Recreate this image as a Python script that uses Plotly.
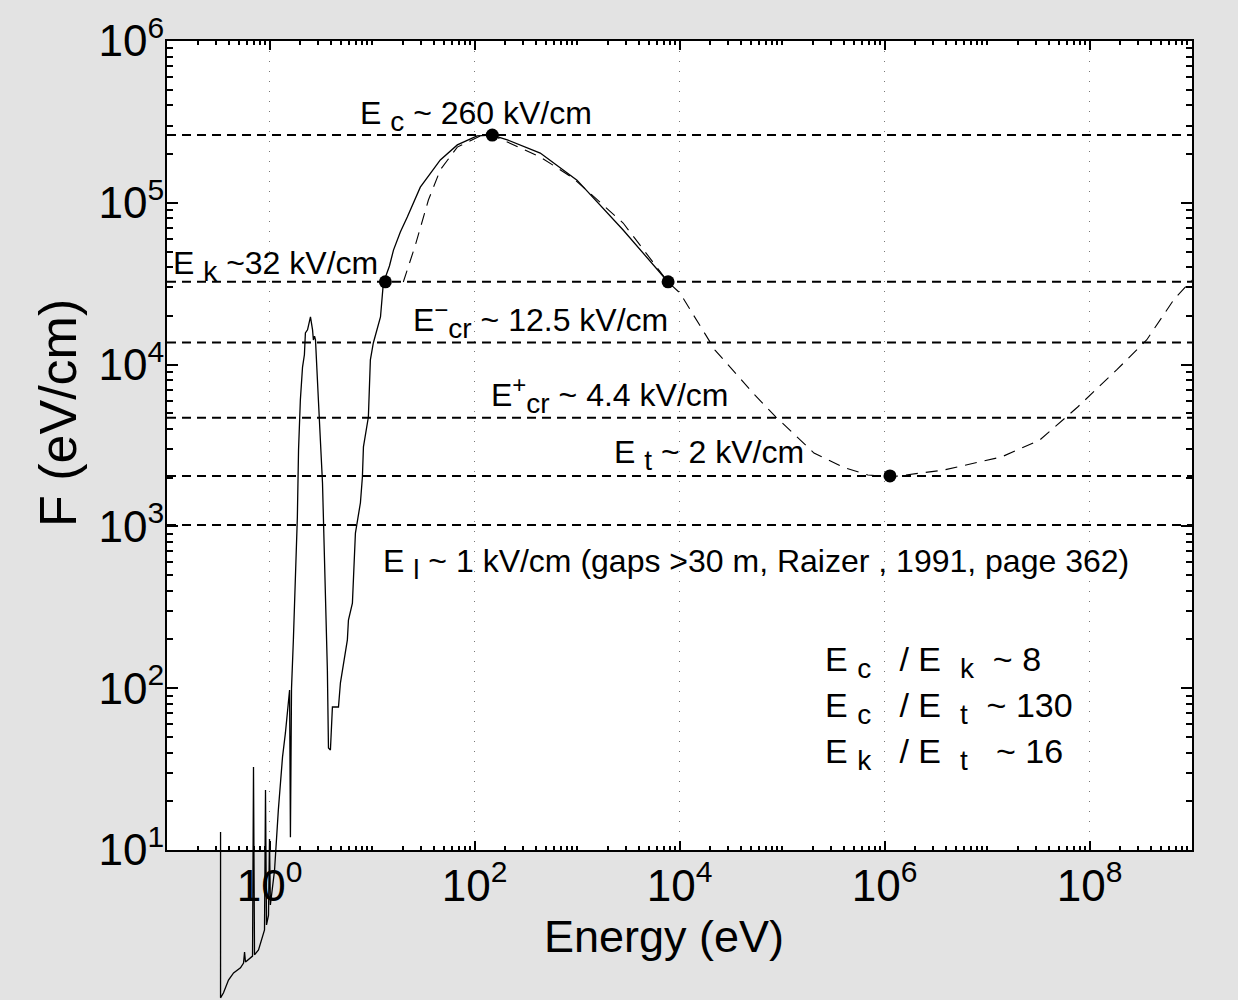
import math
import plotly.graph_objects as go

# ---------------- data ----------------
# measured friction / stopping force (solid curve)
energy_solid = [0.333, 0.333, 0.356, 0.398, 0.446, 0.521, 0.558, 0.571, 0.583, 0.683,
                0.698, 0.714, 0.781, 0.855, 0.894, 0.914, 0.935, 0.978, 1.0, 1.02,
                1.12, 1.22, 1.34, 1.43, 1.57, 1.60, 1.64, 1.71, 1.79, 1.87,
                1.92, 2.00, 2.10, 2.19, 2.24, 2.35, 2.51, 2.63, 2.68, 2.75,
                2.81, 2.94, 3.00, 3.29, 3.51, 3.67, 3.76, 3.93, 4.11, 4.71,
                4.92, 5.75, 5.89, 6.44, 6.89, 7.71, 8.06, 8.25, 9.22, 9.64,
                10.3, 12.1, 12.9, 13.8, 14.8, 16.2, 18.9, 22.1, 29.6, 46.4,
                68.0, 106, 149, 209, 438, 1000, 2820, 7740]
F_solid = [12.9, 1.22, 1.31, 1.57, 1.74, 1.87, 2.0, 2.34, 2.03, 2.21,
           32.6, 2.25, 2.41, 2.99, 3.21, 23.5, 3.44, 3.96, 11.7, 4.57,
           7.5, 17.7, 37.6, 52.9, 97.5, 12.0, 100, 199, 447, 1140,
           2970, 6040, 9660, 11500, 15700, 16400, 19700, 16400, 14200, 15000,
           14200, 6670, 6040, 1850, 447, 129, 42.7, 41.5, 76.5, 76.5,
           108, 199, 264, 336, 910, 1400, 2020, 3100, 4740, 10700,
           13600, 19700, 31900, 35800, 40700, 51000, 66000, 81700, 125000, 184000,
           228000, 259000, 262000, 245000, 203000, 138000, 67900, 32400]

# Bethe-type curve (thin dashed)
energy_bethe = [20.2, 26.5, 35.5, 46.4, 68.0, 114, 149, 438, 918, 2820,
                7740, 10100, 22200, 52100, 87400, 205000, 411000, 689000, 1130000, 3.79e6,
                1.39e7, 3.27e7, 7.67e7, 1.84e8, 3.61e8, 6.62e8, 9.9e8]
F_bethe = [32400, 54800, 104000, 160000, 221000, 259000, 262000, 192000, 142000, 75000,
           32400, 27700, 12300, 6670, 4740, 2840, 2300, 2080, 2020, 2230,
           2690, 3420, 5470, 9270, 14200, 25100, 33300]

# threshold field levels (eV/cm)
field_names = ["E_c", "E_k", "E_cr-", "E_cr+", "E_t", "E_l"]
field_values = [2.62e5, 3.25e4, 1.37e4, 4.7e3, 2.05e3, 1.02e3]

# highlighted points
marker_energy = [13.5, 149, 7740, 1.13e6]
marker_F = [3.25e4, 2.62e5, 3.25e4, 2.05e3]

# axes
E_RANGE = [0.1, 1e9]
F_RANGE = [10, 1e6]
x_tick_vals = [1, 1e2, 1e4, 1e6, 1e8]
x_tick_exp = ["0", "2", "4", "6", "8"]
y_tick_vals = [1e1, 1e2, 1e3, 1e4, 1e5, 1e6]
y_tick_exp = ["1", "2", "3", "4", "5", "6"]
x_title = "Energy (eV)"
y_title = "F (eV/cm)"

# ---------------- layout geometry ----------------
W, H = 1238, 1000
PL, PR, PT, PB = 167, 1192, 41, 850      # plot frame in pixels
ML, MR, MT, MB = PL, W - PR, PT, 0
region_h = H - MT - MB
ydom0 = (H - PB) / region_h

xr = [math.log10(E_RANGE[0]), math.log10(E_RANGE[1])]
yr = [math.log10(F_RANGE[0]), math.log10(F_RANGE[1])]
px_per_dec = (PB - PT) / (yr[1] - yr[0])
y2_low = yr[0] - (H - PB) / px_per_dec

FONT = "Liberation Sans, Arial, Helvetica, sans-serif"


def px(x):
    return (x - ML) / (W - ML - MR)


def py(y):
    return (H - MB - y) / region_h


def sub(s, size):
    return "<sub><span style='font-size:%dpx'>%s</span></sub>" % (size, s)


def sup(s, size):
    return "<sup><span style='font-size:%dpx'>%s</span></sup>" % (size, s)


x_tick_text = ["10" + sup(e, 30) for e in x_tick_exp]
y_tick_text = ["10" + sup(e, 30) for e in y_tick_exp]

fig = go.Figure()

# dashed horizontal threshold lines
for v in field_values:
    fig.add_trace(go.Scatter(x=E_RANGE, y=[v, v], mode="lines",
                             line=dict(color="black", width=2, dash="9px,6px"),
                             xaxis="x", yaxis="y", showlegend=False, hoverinfo="skip"))

# Bethe curve
fig.add_trace(go.Scatter(x=energy_bethe, y=F_bethe, mode="lines",
                         line=dict(color="black", width=1.1, dash="12px,8px"),
                         xaxis="x", yaxis="y", showlegend=False))

# markers
fig.add_trace(go.Scatter(x=marker_energy, y=marker_F, mode="markers",
                         marker=dict(color="black", size=13),
                         xaxis="x", yaxis="y", showlegend=False))

# solid measured curve, on an extended invisible subplot so it can run below the frame
fig.add_trace(go.Scatter(x=energy_solid, y=F_solid, mode="lines",
                         line=dict(color="black", width=1.3),
                         xaxis="x2", yaxis="y2", showlegend=False))

axis_common = dict(showline=True, linecolor="black", linewidth=2, mirror="ticks",
                   ticks="inside", tickcolor="black", tickwidth=1.5,
                   tickfont=dict(family=FONT, size=44, color="black"),
                   zeroline=False, automargin=False)

fig.update_layout(
    width=W, height=H,
    margin=dict(l=ML, r=MR, t=MT, b=MB, pad=0, autoexpand=False),
    paper_bgcolor="#e3e3e3",
    plot_bgcolor="rgba(0,0,0,0)",
    font=dict(family=FONT, color="black"),
    showlegend=False,
    xaxis=dict(type="log", range=xr, domain=[0, 1], anchor="y",
               tickvals=x_tick_vals, ticktext=x_tick_text, ticklen=9, ticklabelstandoff=-4,
               showgrid=True, gridcolor="#777777", gridwidth=1, griddash="1px,9px",
               minor=dict(ticks="inside", ticklen=4, tickcolor="black", dtick="D1", showgrid=False),
               **axis_common),
    yaxis=dict(type="log", range=yr, domain=[ydom0, 1], anchor="x",
               tickvals=y_tick_vals, ticktext=y_tick_text, ticklen=11, ticklabelstandoff=-8,
               showgrid=False,
               minor=dict(ticks="inside", ticklen=6, tickcolor="black", dtick="D1", showgrid=False),
               **axis_common),
    xaxis2=dict(type="log", range=xr, domain=[0, 1], anchor="y2", visible=False, automargin=False),
    yaxis2=dict(type="log", range=[y2_low, yr[1]], domain=[0, 1], anchor="x2", visible=False,
                automargin=False),
    shapes=[dict(type="rect", xref="x domain", yref="y domain", x0=0, x1=1, y0=0, y1=1,
                 fillcolor="white", line=dict(width=0), layer="below")],
)


def note(text, x, y, size=32, anchor="left", angle=0):
    fig.add_annotation(text=text, x=px(x), y=py(y), xref="paper", yref="paper",
                       xanchor=anchor, yanchor="middle", showarrow=False, textangle=angle,
                       font=dict(family=FONT, size=size, color="black"))


# axis titles
note(x_title, 664, 936, 45, "center")
note(y_title, 58, 413, 52, "center", -90)

S = 28
note("E " + sub("c", S) + " ~ 260 kV/cm", 358, 116)
note("E " + sub("k", S) + " ~32 kV/cm", 171, 266)
note("E" + sup("−", 24) + sub("cr", S) + " ~ 12.5 kV/cm", 411, 320)
note("E" + sup("+", 24) + sub("cr", S) + " ~ 4.4 kV/cm", 489, 395)
note("E " + sub("t", S) + " ~ 2 kV/cm", 612, 455)
note("E " + sub("l", S) + " ~ 1 kV/cm (gaps >30 m, Raizer , 1991, page 362)", 381, 564, 32)
note("E " + sub("c", S) + "   / E  " + sub("k", S) + "  ~ 8", 823, 662, 34)
note("E " + sub("c", S) + "   / E  " + sub("t", S) + "  ~ 130", 823, 708, 34)
note("E " + sub("k", S) + "   / E  " + sub("t", S) + "   ~ 16", 823, 754, 34)

fig.write_html("out.html")
